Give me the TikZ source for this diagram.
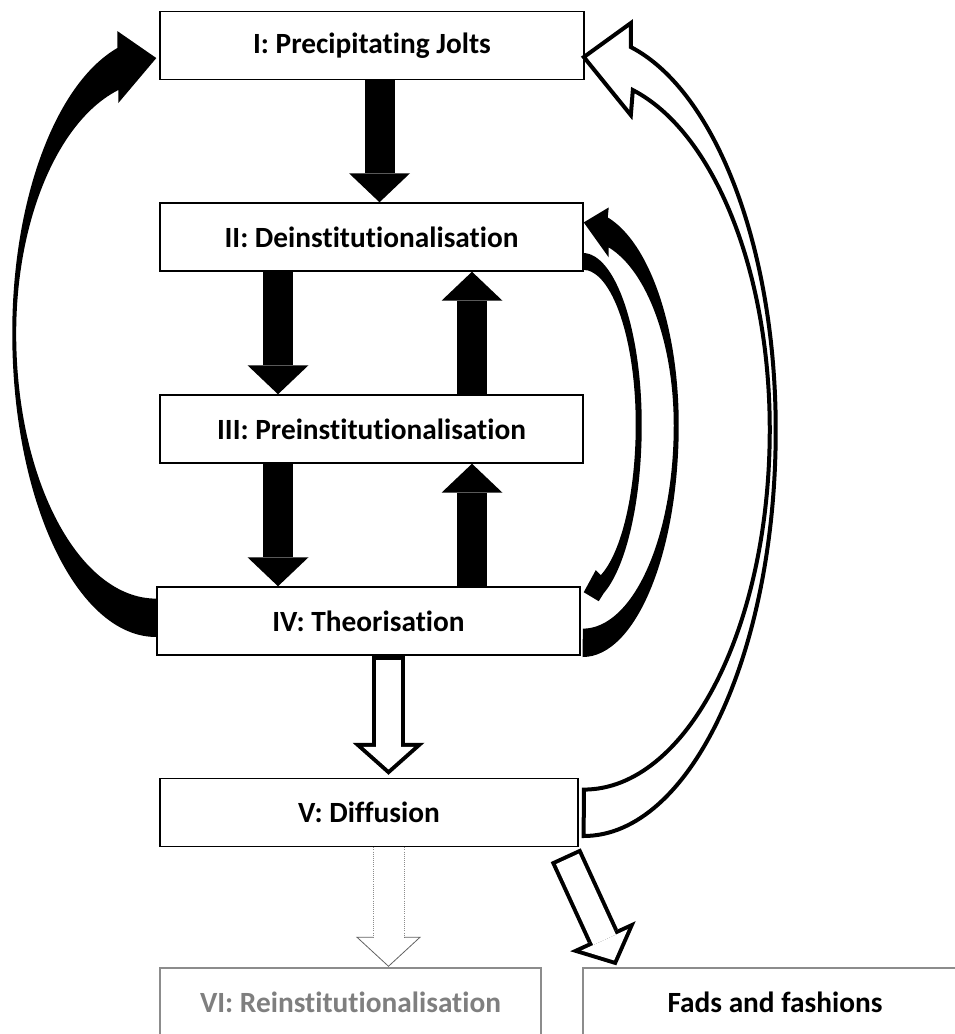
\documentclass[tikz,border=0pt]{standalone}
\usepackage{fontspec}
\setmainfont{Carlito}[Ligatures=NoCommon]
\usepackage{xcolor}
\usetikzlibrary{arrows.meta}
\usetikzlibrary{positioning,calc}
\definecolor{fadegray}{HTML}{8C8C8C}
\definecolor{fadetext}{HTML}{7F7F7F}
\tikzset{
    stage/.style={
        draw,
        rectangle,
        fill=white,
        line width=1.1pt,
        minimum width=317.25pt,
        minimum height=51pt,
        inner sep=0pt,
        font=\fontsize{22pt}{26pt}\selectfont\bfseries
    },
    faded/.style={
        stage,
        draw=fadegray,
        text=fadetext
    },
    blockarrow/.style={
        draw=black,
        line width=22.5pt,
        -{Triangle[length=21.75pt, width=45.75pt, line width=0pt]}
    },
    hollowarrow/.style={
        draw=black,
        line width=24.75pt,
        -{Triangle[length=24pt, width=54pt, line width=0pt]},
        postaction={
            draw=white,
            line width=18.75pt,
            shorten <=3pt,
            shorten >=4pt,
            -{Triangle[length=17pt, width=38.25pt, line width=0pt]}
        }
    },
    curvedarrow/.style={fill=black, draw=none},
    hollowcurve/.style={fill=white, draw=black, line width=3pt, line join=miter}
}

\begin{document}
\begin{tikzpicture}[x=0.75pt, y=0.75pt]
    \useasboundingbox (0,0) rectangle (955,-1034);
    \clip (0,0) rectangle (955,-1034);

    \node[stage, minimum width=318pt] (I) at (372,-45.5) {I: Precipitating Jolts};
    \node[stage] (II) at (371.5,-237) {II: Deinstitutionalisation};
    \node[stage] (III) at (371.5,-429) {III: Preinstitutionalisation};
    \node[stage] (IV) at (368.5,-621) {IV: Theorisation};
    \node[stage, minimum width=313.5pt] (V) at (369,-812.5) {V: Diffusion};
    \node[faded, minimum width=285.75pt] (VI) at (350.5,-1002) {VI: Reinstitutionalisation};
    \node[stage, draw=fadegray, minimum width=288pt] (F) at (775,-1002) {Fads and fashions};

    \coordinate (jc) at (379.5,0);
    \coordinate (dc) at (278,0);
    \coordinate (uc) at (472,0);
    \coordinate (hc) at (388.5,0);

    \draw[blockarrow] (I.south -| jc) -- (II.north -| jc);
    \draw[blockarrow] (II.south -| dc) -- (III.north -| dc);
    \draw[blockarrow] (III.north -| uc) -- (II.south -| uc);
    \draw[blockarrow] (III.south -| dc) -- (IV.north -| dc);
    \draw[blockarrow] (IV.north -| uc) -- (III.south -| uc);
    \draw[hollowarrow] (IV.south -| hc) -- ($(V.north -| hc)+(0,3)$);
    \draw[hollowarrow] ($(V.south east)+(-13,-8)$) -- ($(F.north west)+(34,2)$);

    \draw[fadegray, densely dotted, line width=0.6pt] ($(V.south -| hc)+(-15.5,0)$) -- ++(0,-90) coordinate (gl)
        ($(V.south -| hc)+(15.5,0)$) -- ++(0,-90) coordinate (gr);
    \draw[fadegray!70!black, line width=0.6pt] (gl) -- ++(-16,0) -- ($(VI.north -| hc)+(0,1)$) -- ($(gr)+(16,0)$) -- (gr);

    \fill[curvedarrow] ([yshift=-12pt]IV.west)
        arc[start angle=270, end angle=180, x radius=144, y radius=304]
        arc[start angle=180, end angle=105.7, x radius=144, y radius=296]
        -- ++(0,17) -- ++(39,-27) -- ++(-38,-45) -- ++(0,13)
        arc[start angle=105.7, end angle=180, x radius=140, y radius=253]
        arc[start angle=180, end angle=270, x radius=140, y radius=265]
        -- cycle;

    \draw[hollowcurve] ($(V.east)+(5,-23.5)$)
        arc[start angle=270, end angle=360, x radius=192, y radius=406]
        arc[start angle=0, end angle=75.8, x radius=192, y radius=395]
        -- ++(0,24) -- ++(-47,-34) -- ++(47,-58) -- ++(2,25)
        arc[start angle=74.7, end angle=0, x radius=186, y radius=352]
        arc[start angle=0, end angle=-90, x radius=186, y radius=360]
        -- cycle;

    \fill[curvedarrow] ($(IV.east)+(2,-36)$)
        arc[start angle=270, end angle=360, x radius=96, y radius=232]
        arc[start angle=0, end angle=74.9, x radius=96, y radius=215]
        -- ++(1,10) -- ++(-25,-15) -- ++(25,-35) -- ++(0,10)
        arc[start angle=73.4, end angle=0, x radius=91, y radius=186]
        arc[start angle=0, end angle=-90, x radius=91, y radius=203]
        -- cycle;

    \fill[curvedarrow] ($(II.east)+(-1,-16)$)
        arc[start angle=90, end angle=0, x radius=59, y radius=172]
        arc[start angle=0, end angle=-69.15, x radius=59, y radius=180]
        -- ++(-5,-8) -- ++(-15,9) -- ++(12,22) -- ++(5,-5)
        arc[start angle=-70.15, end angle=0, x radius=53, y radius=160]
        arc[start angle=0, end angle=90, x radius=53, y radius=155]
        -- cycle;
\end{tikzpicture}
\end{document}
